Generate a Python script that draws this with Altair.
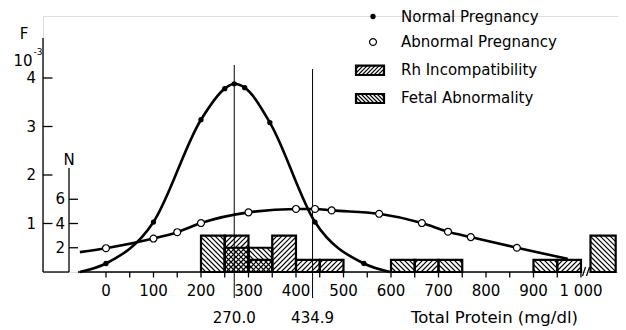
import math
import altair as alt
import pandas as pd

# ---------------- data ----------------
# Normal pregnancy (filled dots): total protein (mg/dl) vs F (x10^-3)
NORMAL_X = [0, 100, 200, 250, 270, 292, 345, 440, 543]
NORMAL_F = [0.175, 1.03, 3.14, 3.78, 3.88, 3.80, 3.08, 1.03, 0.175]
NORMAL_END_X = [-55, 598]
NORMAL_END_F = [0.0, 0.0]

# Abnormal pregnancy (open circles)
ABNORMAL_X = [0, 100, 150, 200, 300, 400, 440, 475, 575, 665, 720, 768, 865]
ABNORMAL_F = [0.49, 0.69, 0.82, 1.01, 1.23, 1.30, 1.30, 1.27, 1.20, 1.01, 0.83, 0.72, 0.50]
ABNORMAL_END_X = [-55, 972]
ABNORMAL_END_F = [0.41, 0.27]

# Histograms (N = number of cases), bins of 50 mg/dl; last fetal bin is ">1000"
RH_START = [250, 300, 350, 400, 450, 650, 950]
RH_END = [300, 350, 400, 450, 500, 700, 1000]
RH_N = [3, 1, 3, 1, 1, 1, 1]
FETAL_START = [200, 250, 300, 600, 700, 900, 1020]
FETAL_END = [250, 300, 350, 650, 750, 950, 1073]
FETAL_N = [3, 2, 2, 1, 1, 1, 3]

MARKERS = [270.0, 434.9]
MARKER_LABELS = ["270.0", "434.9"]

X_TICKS = list(range(0, 1001, 50))
X_LABEL_VALUES = list(range(0, 1001, 100))
X_LABELS = ["0", "100", "200", "300", "400", "500", "600", "700", "800", "900", "1 000"]
F_TICKS = [1, 2, 3, 4]
N_TICKS = [2, 4, 6]

LEGEND_LABELS = ["Normal Pregnancy", "Abnormal Pregnancy", "Rh Incompatibility", "Fetal Abnormality"]

# ---------------- layout ----------------
X_MIN, X_MAX = -132.6, 1077.9
W, H = 575, 256
SX = W / (X_MAX - X_MIN)      # px per mg/dl
SY = 48.5                      # px per F unit
F_MAX = H / SY
N_PER_F = 4.0                  # N axis: 4 cases per F unit
X0PX = 43 - X_MIN * SX         # page px of x=0 (approx 106)
BASE_PX = 272                  # page px of baseline

def px_x(p):
    return (p - X0PX) / SX

def px_f(p):
    return (BASE_PX - p) / SY

FONT = "DejaVu Sans"
FS = 15

xscale = alt.Scale(domain=[X_MIN, X_MAX], nice=False, zero=False)
yscale = alt.Scale(domain=[0, F_MAX], nice=False, zero=False)

def X(f="x"):
    return alt.X(f"{f}:Q", scale=xscale, axis=None)

def Y(f="y"):
    return alt.Y(f"{f}:Q", scale=yscale, axis=None)


def hatch(x0, x1, y0, y1, direction, sp=5.0):
    """45-degree hatch segments (in data units) clipped to a rectangle."""
    X0, X1, Y0, Y1 = x0 * SX, x1 * SX, y0 * SY, y1 * SY
    segs = []
    if direction == "/":   # Y - Y0 = X - c
        c = math.ceil((X0 - (Y1 - Y0)) / sp) * sp
        while c <= X1:
            xs = max(X0, c)
            xe = min(X1, c + (Y1 - Y0))
            if xe - xs > 0.4:
                segs.append((xs, Y0 + xs - c, xe, Y0 + xe - c))
            c += sp
    else:                  # Y - Y0 = c - X
        c = math.ceil(X0 / sp) * sp
        while c <= X1 + (Y1 - Y0):
            xs = max(X0, c - (Y1 - Y0))
            xe = min(X1, c)
            if xe - xs > 0.4:
                segs.append((xs, Y0 + c - xs, xe, Y0 + c - xe))
            c += sp
    return [dict(x=a / SX, y=b / SY, x2=cc / SX, y2=d / SY) for a, b, cc, d in segs]


# ---------------- bars ----------------
bars = []
hatch_rows = []
for s, e, n in zip(RH_START, RH_END, RH_N):
    bars.append(dict(x=s, x2=e, y=0, y2=n / N_PER_F))
    hatch_rows += hatch(s, e, 0, n / N_PER_F, "/")
for s, e, n in zip(FETAL_START, FETAL_END, FETAL_N):
    bars.append(dict(x=s, x2=e, y=0, y2=n / N_PER_F))
    hatch_rows += hatch(s, e, 0, n / N_PER_F, "\\")

# legend swatches
SW_X0, SW_X1 = px_x(356), px_x(384)
sw_rh = (px_f(75), px_f(65.7))
sw_fe = (px_f(103), px_f(94))
bars.append(dict(x=SW_X0, x2=SW_X1, y=sw_rh[0], y2=sw_rh[1]))
bars.append(dict(x=SW_X0, x2=SW_X1, y=sw_fe[0], y2=sw_fe[1]))
hatch_rows += hatch(SW_X0, SW_X1, sw_rh[0], sw_rh[1], "/", sp=4.0)
hatch_rows += hatch(SW_X0, SW_X1, sw_fe[0], sw_fe[1], "\\", sp=4.0)

bars_df = pd.DataFrame(bars)
hatch_df = pd.DataFrame(hatch_rows)

hatch_layer = alt.Chart(hatch_df).mark_rule(color="black", strokeWidth=1.15).encode(
    x=X("x"), y=Y("y"), x2="x2:Q", y2="y2:Q")
bar_layer = alt.Chart(bars_df).mark_rect(fill="white", fillOpacity=0, stroke="black",
                                         strokeWidth=2.2).encode(
    x=X("x"), x2="x2:Q", y=Y("y"), y2="y2:Q")

# ---------------- curves ----------------
norm_line = pd.DataFrame({
    "x": [NORMAL_END_X[0]] + NORMAL_X + [NORMAL_END_X[1]],
    "y": [NORMAL_END_F[0]] + NORMAL_F + [NORMAL_END_F[1]]})
abn_line = pd.DataFrame({
    "x": [ABNORMAL_END_X[0]] + ABNORMAL_X + [ABNORMAL_END_X[1]],
    "y": [ABNORMAL_END_F[0]] + ABNORMAL_F + [ABNORMAL_END_F[1]]})

norm_curve = alt.Chart(norm_line).mark_line(color="black", strokeWidth=2.6,
                                           interpolate="monotone").encode(x=X(), y=Y())
abn_curve = alt.Chart(abn_line).mark_line(color="black", strokeWidth=2.6,
                                         interpolate="monotone").encode(x=X(), y=Y())

LEG_ROWS_PX = [16.5, 42, 70, 98]
norm_pts = pd.DataFrame({"x": NORMAL_X + [px_x(373)], "y": NORMAL_F + [px_f(LEG_ROWS_PX[0])]})
abn_pts = pd.DataFrame({"x": ABNORMAL_X + [px_x(373)], "y": ABNORMAL_F + [px_f(LEG_ROWS_PX[1])]})
norm_dots = alt.Chart(norm_pts).mark_point(shape="circle", filled=True, color="black",
                                           size=28, opacity=1).encode(x=X(), y=Y())
abn_dots = alt.Chart(abn_pts).mark_point(shape="circle", filled=True, fill="white",
                                         stroke="black", strokeWidth=1.2, size=48,
                                         opacity=1).encode(x=X(), y=Y())

# ---------------- marker lines ----------------
mk_df = pd.DataFrame({"x": MARKERS, "y": [px_f(298)] * 2,
                      "y2": [px_f(65), px_f(69)], "label": MARKER_LABELS,
                      "ly": [px_f(318)] * 2})
mk_lines = alt.Chart(mk_df).mark_rule(color="black", strokeWidth=1).encode(
    x=X(), y=Y(), y2="y2:Q")
mk_text = alt.Chart(mk_df).mark_text(font=FONT, fontSize=FS, baseline="middle",
                                     align="center").encode(x=X(), y=Y("ly"), text="label:N")

# ---------------- hand-drawn axes ----------------
N_AX = px_x(69)
axis_rows = [
    dict(x=X_MIN, x2=X_MIN, y=0, y2=px_f(38)),            # F axis
    dict(x=N_AX, x2=N_AX, y=0, y2=px_f(168)),             # N axis
    dict(x=X_MIN, x2=N_AX, y=0, y2=0),                    # bracket bottom
    dict(x=px_x(78), x2=1000, y=0, y2=0),                 # x baseline
]
for t in F_TICKS:
    axis_rows.append(dict(x=X_MIN, x2=X_MIN + 9.5 / SX, y=t, y2=t))
for t in N_TICKS:
    axis_rows.append(dict(x=N_AX, x2=N_AX + 9 / SX, y=t / N_PER_F, y2=t / N_PER_F))
for t in X_TICKS:
    axis_rows.append(dict(x=t, x2=t, y=0, y2=-5.5 / SY))
axis_df = pd.DataFrame(axis_rows)
axis_layer = alt.Chart(axis_df).mark_rule(color="black", strokeWidth=1.3).encode(
    x=X(), x2="x2:Q", y=Y(), y2="y2:Q")

# axis break marks after 1000
brk_rows = []
for p in (584, 588):
    brk_rows.append(dict(x=px_x(p - 1.5), y=px_f(276), x2=px_x(p + 1.5), y2=px_f(267)))
brk_layer = alt.Chart(pd.DataFrame(brk_rows)).mark_rule(color="black", strokeWidth=1.2).encode(
    x=X(), y=Y(), x2="x2:Q", y2="y2:Q")

xlab_df = pd.DataFrame({"x": X_LABEL_VALUES, "y": [px_f(291)] * len(X_LABELS), "t": X_LABELS})
xlab = alt.Chart(xlab_df).mark_text(font=FONT, fontSize=FS, baseline="middle").encode(
    x=X(), y=Y(), text="t:N")

flab_df = pd.DataFrame({"x": [px_x(36)] * len(F_TICKS), "y": F_TICKS, "t": [str(v) for v in F_TICKS]})
flab = alt.Chart(flab_df).mark_text(font=FONT, fontSize=FS, baseline="middle", align="right").encode(
    x=X(), y=Y(), text="t:N")
nlab_df = pd.DataFrame({"x": [px_x(65)] * len(N_TICKS), "y": [v / N_PER_F for v in N_TICKS],
                        "t": [str(v) for v in N_TICKS]})
nlab = alt.Chart(nlab_df).mark_text(font=FONT, fontSize=FS, baseline="middle", align="right").encode(
    x=X(), y=Y(), text="t:N")

titles_df = pd.DataFrame({
    "x": [px_x(24), px_x(23), px_x(69)],
    "y": [px_f(34), px_f(61), px_f(160)],
    "t": ["F", "10", "N"]})
titles = alt.Chart(titles_df).mark_text(font=FONT, fontSize=FS, baseline="middle").encode(
    x=X(), y=Y(), text="t:N")
xtitle = alt.Chart(pd.DataFrame({"x": [px_x(411)], "y": [px_f(318)],
                                 "t": ["Total Protein (mg/dl)"]})).mark_text(
    font=FONT, fontSize=16.5, baseline="middle", align="left").encode(x=X(), y=Y(), text="t:N")
sup = alt.Chart(pd.DataFrame({"x": [px_x(38)], "y": [px_f(52)], "t": ["-3"]})).mark_text(
    font=FONT, fontSize=9, baseline="middle").encode(x=X(), y=Y(), text="t:N")

leg_df = pd.DataFrame({"x": [px_x(401)] * 4,
                       "y": [px_f(p) for p in LEG_ROWS_PX],
                       "t": LEGEND_LABELS})
leg = alt.Chart(leg_df).mark_text(font=FONT, fontSize=FS, baseline="middle", align="left").encode(
    x=X(), y=Y(), text="t:N")

chart = alt.layer(
    hatch_layer, bar_layer, norm_curve, abn_curve, mk_lines, norm_dots, abn_dots,
    axis_layer, brk_layer, xlab, flab, nlab, titles, xtitle, sup, mk_text, leg
).properties(
    width=W, height=H,
    autosize=alt.AutoSizeParams(type="none"),
    padding={"left": 35, "top": 8, "right": 0, "bottom": 58},
).configure_view(stroke=None).configure(background="white")

chart.save("out.html", embed_options={"renderer": "svg", "actions": False})
